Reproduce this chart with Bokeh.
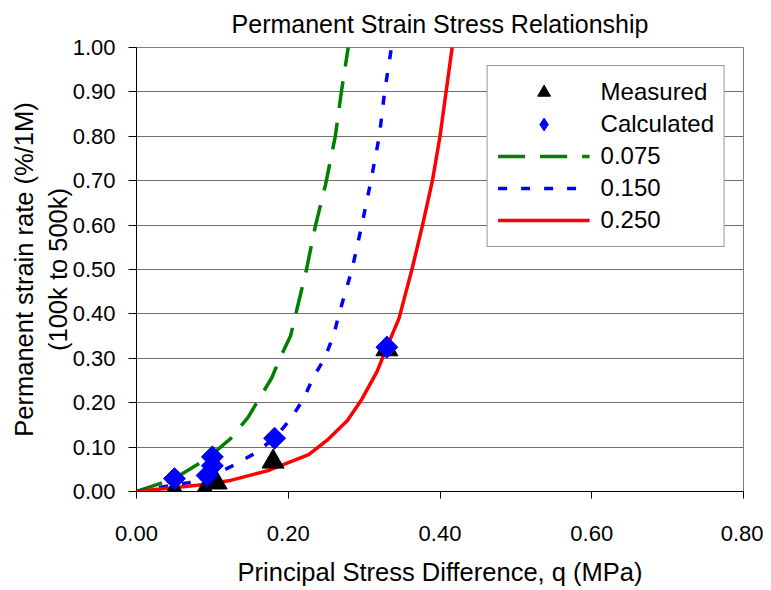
import numpy as np
from bokeh.plotting import figure
from bokeh.models import (Range1d, FixedTicker, NumeralTickFormatter, Legend, LegendItem)
from bokeh.embed import file_html
from bokeh.resources import INLINE

# ---- data ----
measured_q = [0.05, 0.09, 0.105, 0.18, 0.33]
measured_r = [0.0, 0.0, 0.02, 0.067, 0.32]

calc_q = [0.05, 0.093, 0.10, 0.10, 0.182, 0.33]
calc_r = [0.029, 0.036, 0.058, 0.078, 0.12, 0.325]

g075_q = [0, 0.05, 0.093, 0.124, 0.147, 0.162, 0.178, 0.189, 0.203, 0.210, 0.224, 0.236, 0.249, 0.262, 0.270, 0.279, 0.281]
g075_r = [0, 0.029, 0.074, 0.119, 0.167, 0.21, 0.255, 0.30, 0.35, 0.40, 0.50, 0.60, 0.69, 0.80, 0.90, 1.0, 1.03]

b150_q = [0, 0.036, 0.069, 0.10, 0.128, 0.155, 0.182, 0.203, 0.220, 0.233, 0.248, 0.260, 0.267, 0.284, 0.297, 0.309, 0.320, 0.327, 0.336, 0.338]
b150_r = [0, 0.011, 0.02, 0.036, 0.059, 0.085, 0.12, 0.163, 0.208, 0.257, 0.30, 0.353, 0.40, 0.50, 0.60, 0.70, 0.80, 0.90, 1.0, 1.03]

r250_q = [0, 0.08, 0.124, 0.175, 0.227, 0.253, 0.278, 0.297, 0.317, 0.33, 0.346, 0.363, 0.377, 0.390, 0.400, 0.408, 0.416, 0.418]
r250_r = [0, 0.014, 0.025, 0.048, 0.083, 0.118, 0.16, 0.208, 0.27, 0.325, 0.39, 0.50, 0.60, 0.70, 0.80, 0.90, 1.0, 1.03]

x_ticks = [0.0, 0.2, 0.4, 0.6, 0.8]
y_ticks = [0.0, 0.1, 0.2, 0.3, 0.4, 0.5, 0.6, 0.7, 0.8, 0.9, 1.0]

series_labels = ["Measured", "Calculated", "0.075", "0.150", "0.250"]
title_text = "Permanent Strain Stress Relationship"
x_label = "Principal Stress Difference, q (MPa)"
y_label = "Permanent strain rate (%/1M)\n(100k to 500k)"

FONT = "Liberation Sans"

p = figure(width=763, height=588, output_backend="svg", toolbar_location=None,
           x_range=Range1d(0, 0.8), y_range=Range1d(0, 1.0),
           min_border_left=136, min_border_right=20, min_border_top=46, min_border_bottom=95)
p.background_fill_color = "white"
p.border_fill_color = "white"
p.outline_line_color = "#808080"
p.outline_line_width = 1

p.title.text = title_text
p.title.align = "center"
p.title.vertical_align = "middle"
p.title.text_font = FONT
p.title.text_font_size = "25px"
p.title.text_font_style = "normal"
p.title.text_color = "black"
p.title.standoff = 17

p.xgrid.grid_line_color = None
p.ygrid.grid_line_color = "#707070"
p.ygrid.grid_line_width = 1

p.xaxis.ticker = FixedTicker(ticks=x_ticks)
p.yaxis.ticker = FixedTicker(ticks=y_ticks)
p.xaxis.formatter = NumeralTickFormatter(format="0.00")
p.yaxis.formatter = NumeralTickFormatter(format="0.00")
for ax in (p.xaxis, p.yaxis):
    ax.axis_line_color = "black"
    ax.major_tick_line_color = "black"
    ax.minor_tick_line_color = None
    ax.major_tick_in = 0
    ax.major_label_text_font = FONT
    ax.major_label_text_font_size = "22px"
    ax.major_label_text_color = "black"
    ax.axis_label_text_font = FONT
    ax.axis_label_text_font_style = "normal"
    ax.axis_label_text_color = "black"
p.xaxis.major_tick_out = 7
p.yaxis.major_tick_out = 8
p.xaxis.major_label_standoff = 27
p.yaxis.major_label_standoff = 13

p.xaxis.axis_label = x_label
p.xaxis.axis_label_text_font_size = "25.5px"
p.xaxis.axis_label_standoff = 14
p.yaxis.axis_label = y_label
p.yaxis.axis_label_text_font_size = "25.5px"
p.yaxis.axis_label_standoff = -2

# lines
l1 = p.line(g075_q, g075_r, line_color="#008000", line_width=3.5, line_dash="27 15")
l2 = p.line(b150_q, b150_r, line_color="#0000ff", line_width=3.5, line_dash="9 14")
l3 = p.line(r250_q, r250_r, line_color="#ff0000", line_width=3.5, line_join="round")

# markers
m1 = p.scatter(measured_q, measured_r, marker="triangle", size=22, fill_color="black", line_color="black")
m2 = p.scatter(calc_q, calc_r, marker="square", angle=np.pi / 4, size=15.5, fill_color="#0000ff", line_color="#0000ff")
# legend swatch for the calculated series (same style, drawn as diamond key)
m2_key = p.scatter(x=[float("nan")], y=[float("nan")], marker="diamond", size=15,
                   fill_color="#0000ff", line_color="#0000ff")

legend = Legend(items=[
    LegendItem(label=series_labels[0], renderers=[m1]),
    LegendItem(label=series_labels[1], renderers=[m2_key]),
    LegendItem(label=series_labels[2], renderers=[l1]),
    LegendItem(label=series_labels[3], renderers=[l2]),
    LegendItem(label=series_labels[4], renderers=[l3]),
], location="top_right")
legend.margin = 18
legend.padding = 10
legend.spacing = 0
legend.glyph_width = 92
legend.glyph_height = 32
legend.label_height = 32
legend.label_standoff = 11
legend.label_text_font = FONT
legend.label_text_font_size = "24px"
legend.label_text_color = "black"
legend.border_line_color = "#303030"
legend.border_line_width = 1
legend.background_fill_color = "white"
legend.background_fill_alpha = 1.0
p.add_layout(legend, "center")

open("out.html", "w").write(file_html(p, INLINE))
